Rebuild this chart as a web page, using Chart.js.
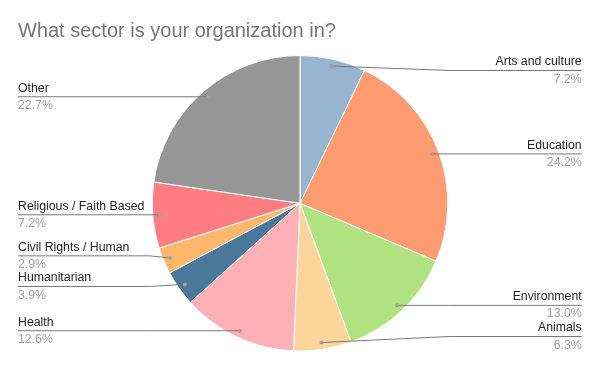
<!DOCTYPE html>
<html>
<head>
<meta charset="utf-8">
<script src="https://cdn.jsdelivr.net/npm/chart.js@4.4.0/dist/chart.umd.min.js"></script>
<style>
  html, body { margin: 0; padding: 0; background: #fff; }
  #wrap { width: 600px; height: 371px; position: relative; }
</style>
</head>
<body>
<div id="wrap"><canvas id="c" width="600" height="371"></canvas></div>
<script>
const chartTitle = "What sector is your organization in?";
const categories = ["Arts and culture", "Education", "Environment", "Animals", "Health", "Humanitarian", "Civil Rights / Human", "Religious / Faith Based", "Other"];
const values = [7.2, 24.2, 13.0, 6.3, 12.6, 3.9, 2.9, 7.2, 22.7];
const percentLabels = ["7.2%", "24.2%", "13.0%", "6.3%", "12.6%", "3.9%", "2.9%", "7.2%", "22.7%"];
const colors = ["#97b5cf", "#ff9b70", "#b1e281", "#fdd59c", "#ffb0b5", "#4a789a", "#ffb86b", "#ff7d82", "#969696"];

const FONT = '"Liberation Sans", Arial, sans-serif';

const labelPlugin = {
  id: 'sideLabels',
  afterDraw(chart) {
    const ctx = chart.ctx;
    // title
    ctx.save();
    ctx.font = '20px ' + FONT;
    ctx.fillStyle = '#757575';
    ctx.textAlign = 'left';
    ctx.textBaseline = 'middle';
    ctx.fillText(chartTitle, 18, 31);
    ctx.restore();

    const meta = chart.getDatasetMeta(0);
    const items = [];
    meta.data.forEach((arc, i) => {
      const p = arc.getProps(['x', 'y', 'startAngle', 'endAngle', 'outerRadius'], true);
      const mid = (p.startAngle + p.endAngle) / 2;
      const dr = p.outerRadius * 0.953;
      const dx = p.x + Math.cos(mid) * dr;
      const dy = p.y + Math.sin(mid) * dr;
      const side = Math.cos(mid) >= 0 ? 'right' : 'left';
      items.push({ i, dx, dy, y: dy, side, cx: p.x, r: p.outerRadius });
    });

    const minY = 70.5, maxY = 336.5, gap = 30.6;
    ['left', 'right'].forEach(side => {
      const arr = items.filter(o => o.side === side).sort((a, b) => a.dy - b.dy);
      for (let it = 0; it < 100; it++) {
        arr.forEach(o => { o.y = Math.min(maxY, Math.max(minY, o.y)); });
        let moved = false;
        for (let k = 0; k < arr.length - 1; k++) {
          const a = arr[k], b = arr[k + 1];
          const d = b.y - a.y;
          if (d < gap - 0.01) {
            const push = (gap - d) / 2;
            a.y -= push; b.y += push; moved = true;
          }
        }
        if (!moved) break;
      }
      arr.forEach(o => { o.y = Math.min(maxY, Math.max(minY, o.y)); });
    });

    const leftX = 18, rightX = 581.7;
    items.forEach(o => {
      const elbowX = o.side === 'right' ? o.cx + o.r + 2 : o.cx - o.r - 2;
      const endX = o.side === 'right' ? rightX : leftX;
      ctx.save();
      ctx.strokeStyle = '#777777';
      ctx.lineWidth = 1;
      ctx.beginPath();
      ctx.moveTo(o.dx, o.dy);
      const ex = (o.side === 'right' ? Math.max(elbowX, o.dx) : Math.min(elbowX, o.dx));
      ctx.lineTo(ex, o.y);
      ctx.lineTo(endX, o.y);
      ctx.stroke();
      ctx.fillStyle = '#9e9e9e';
      ctx.beginPath();
      ctx.arc(o.dx, o.dy, 2, 0, Math.PI * 2);
      ctx.fill();
      ctx.font = '12.3px ' + FONT;
      ctx.textBaseline = 'middle';
      ctx.textAlign = o.side === 'right' ? 'right' : 'left';
      ctx.fillStyle = '#222222';
      ctx.fillText(categories[o.i], endX, o.y - 8.6);
      ctx.fillStyle = '#9e9e9e';
      ctx.fillText(percentLabels[o.i], endX, o.y + 8.7);
      ctx.restore();
    });
  }
};

new Chart(document.getElementById('c'), {
  type: 'pie',
  data: {
    labels: categories,
    datasets: [{
      data: values,
      backgroundColor: colors,
      borderColor: '#ffffff',
      borderWidth: 1
    }]
  },
  options: {
    responsive: false,
    animation: false,
    devicePixelRatio: 1,
    layout: { padding: { top: 55, bottom: 19.4, left: 0, right: 0 } },
    plugins: {
      legend: { display: false },
      tooltip: { enabled: false },
      title: { display: false }
    }
  },
  plugins: [labelPlugin]
});
</script>
</body>
</html>
